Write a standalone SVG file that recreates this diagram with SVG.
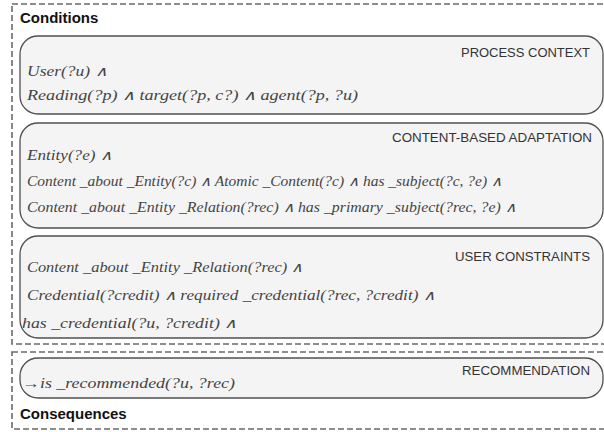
<svg xmlns="http://www.w3.org/2000/svg" width="604" height="432" viewBox="0 0 604 432">
<style>
.frame{fill:none;stroke:#6a6a6a;stroke-width:1.6;stroke-dasharray:6 3}
.box{fill:#f4f4f4;stroke:#505050;stroke-width:1.3}
.head{font-family:"Liberation Sans",Arial,sans-serif;font-weight:bold;font-size:15px;fill:#111}
.lab{font-family:"Liberation Sans",Arial,sans-serif;font-size:13px;fill:#333;text-anchor:end}
.math{font-family:"Liberation Serif","Times New Roman",serif;font-style:italic;font-size:14px;fill:#444}
</style>
<rect width="604" height="432" fill="#ffffff"/>
<g id="conditions">
<rect class="frame" x="12" y="4" width="600" height="340"/>
<text class="head" x="20" y="23">Conditions</text>
</g>
<g id="consequences">
<rect class="frame" x="12" y="352" width="600" height="77"/>
<text class="head" x="20" y="419">Consequences</text>
</g>
<g id="process-context">
<rect class="box" x="20" y="36" width="583" height="78" rx="18" ry="18"/>
<text class="lab" x="590" y="57" textLength="129" lengthAdjust="spacingAndGlyphs">PROCESS CONTEXT</text>
<text class="math" x="27" y="76" textLength="80" lengthAdjust="spacingAndGlyphs">User(?u) ∧</text>
<text class="math" x="27" y="100" textLength="331" lengthAdjust="spacingAndGlyphs">Reading(?p) ∧ target(?p, c?) ∧ agent(?p, ?u)</text>
</g>
<g id="content-based-adaptation">
<rect class="box" x="20" y="123" width="583" height="105" rx="18" ry="18"/>
<text class="lab" x="592" y="142" textLength="200" lengthAdjust="spacingAndGlyphs">CONTENT-BASED ADAPTATION</text>
<text class="math" x="27" y="160" textLength="85" lengthAdjust="spacingAndGlyphs">Entity(?e) ∧</text>
<text class="math" x="27" y="186" textLength="475" lengthAdjust="spacingAndGlyphs">Content _about _Entity(?c) ∧ Atomic _Content(?c) ∧ has _subject(?c, ?e) ∧</text>
<text class="math" x="27" y="212" textLength="489" lengthAdjust="spacingAndGlyphs">Content _about _Entity _Relation(?rec) ∧ has _primary _subject(?rec, ?e) ∧</text>
</g>
<g id="user-constraints">
<rect class="box" x="20" y="236" width="583" height="102" rx="18" ry="18"/>
<text class="lab" x="590" y="261" textLength="135" lengthAdjust="spacingAndGlyphs">USER CONSTRAINTS</text>
<text class="math" x="27" y="272" textLength="276" lengthAdjust="spacingAndGlyphs">Content _about _Entity _Relation(?rec) ∧</text>
<text class="math" x="27" y="300" textLength="408" lengthAdjust="spacingAndGlyphs">Credential(?credit) ∧ required _credential(?rec, ?credit) ∧</text>
<text class="math" x="22" y="328" textLength="215" lengthAdjust="spacingAndGlyphs">has _credential(?u, ?credit) ∧</text>
</g>
<g id="recommendation">
<rect class="box" x="20" y="358" width="583" height="40" rx="18" ry="18"/>
<text class="lab" x="590" y="375" textLength="128" lengthAdjust="spacingAndGlyphs">RECOMMENDATION</text>
<text class="math" x="22" y="388" textLength="213" lengthAdjust="spacingAndGlyphs">→is _recommended(?u, ?rec)</text>
</g>
<g id="connectors"/>
</svg>
